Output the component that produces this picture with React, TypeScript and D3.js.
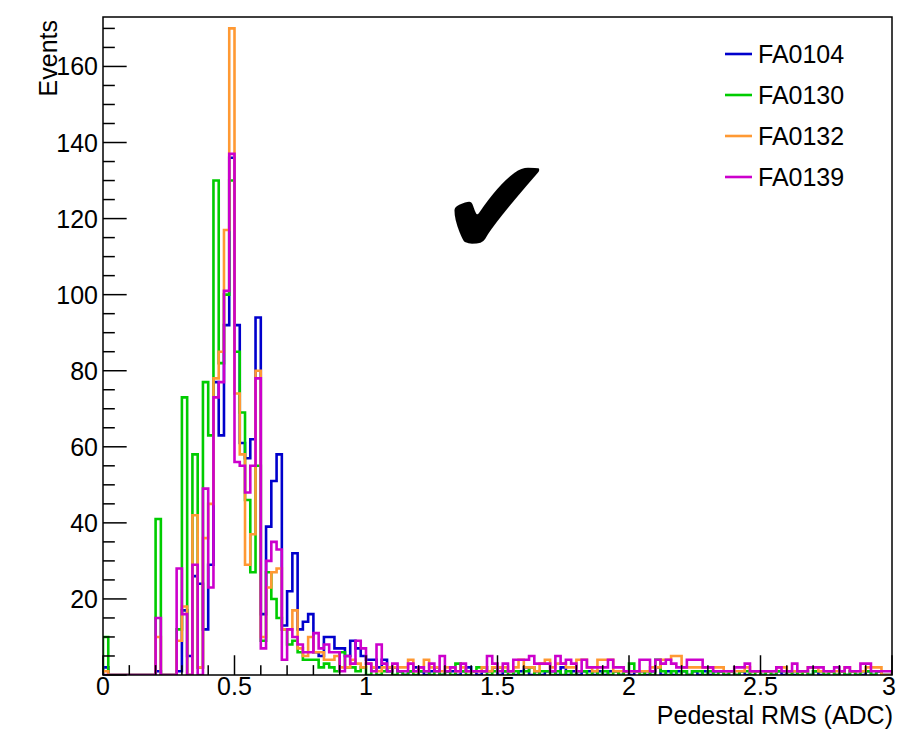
import React from "react";
import * as d3 from "d3";

// Histogram binning: 150 bins over Pedestal RMS 0..3 ADC
const X_MIN = 0;
const X_MAX = 3;
const N_BINS = 150;

const seriesNames = ["FA0104", "FA0130", "FA0132", "FA0139"];
const seriesColors = ["#0000cc", "#00cc00", "#ff9933", "#cc00cc"];

const FA0104 = [
  2, 0, 0, 0, 0, 0, 0, 0, 0, 0,
  1, 0, 0, 0, 1, 17, 5, 26, 24, 12,
  29, 77, 63, 92, 136, 92, 61, 57, 62, 94,
  16, 39, 51, 58, 13, 22, 32, 12, 14, 16,
  6, 5, 10, 10, 7, 7, 5, 9, 7, 5,
  4, 4, 2, 4, 1, 2, 1, 0, 1, 2,
  1, 0, 1, 2, 0, 1, 1, 0, 1, 2,
  1, 0, 1, 1, 2, 0, 1, 1, 0, 1,
  2, 0, 1, 0, 1, 1, 0, 2, 0, 1,
  0, 1, 1, 0, 1, 0, 1, 1, 0, 1,
  0, 1, 1, 0, 1, 2, 0, 1, 0, 1,
  1, 0, 1, 0, 1, 0, 1, 1, 0, 1,
  0, 1, 0, 1, 1, 0, 1, 0, 1, 0,
  1, 0, 1, 1, 0, 1, 0, 0, 1, 0,
  1, 0, 1, 0, 0, 1, 0, 1, 0, 0,
];

const FA0130 = [
  10, 0, 0, 0, 0, 0, 0, 0, 0, 0,
  41, 0, 0, 0, 12, 73, 0, 58, 2, 77,
  63, 130, 82, 100, 130, 85, 69, 46, 27, 55,
  9, 27, 20, 15, 12, 8, 9, 6, 4, 4,
  4, 2, 3, 2, 1, 6, 2, 2, 1, 2,
  0, 2, 0, 1, 2, 0, 1, 0, 1, 0,
  1, 1, 0, 1, 0, 1, 0, 3, 1, 0,
  1, 2, 2, 0, 1, 2, 1, 0, 1, 0,
  1, 2, 0, 1, 1, 0, 1, 0, 1, 0,
  1, 1, 0, 1, 0, 1, 0, 1, 0, 1,
  3, 1, 0, 1, 0, 4, 1, 0, 1, 0,
  1, 0, 1, 1, 0, 1, 0, 1, 0, 1,
  0, 1, 1, 0, 1, 0, 1, 0, 1, 1,
  0, 1, 0, 1, 0, 1, 1, 0, 1, 0,
  1, 0, 1, 0, 1, 1, 0, 1, 0, 0,
];

const FA0132 = [
  1, 0, 0, 0, 0, 0, 0, 0, 0, 0,
  10, 0, 0, 0, 9, 18, 0, 42, 2, 36,
  45, 78, 85, 117, 170, 74, 58, 29, 37, 80,
  10, 23, 27, 28, 12, 12, 17, 7, 5, 10,
  6, 6, 4, 4, 5, 2, 2, 4, 3, 2,
  3, 2, 1, 2, 2, 2, 2, 2, 4, 1,
  2, 4, 2, 2, 1, 2, 2, 1, 2, 1,
  1, 1, 2, 1, 2, 2, 2, 1, 2, 4,
  2, 2, 1, 3, 4, 2, 3, 3, 2, 2,
  4, 4, 2, 1, 4, 4, 4, 1, 1, 1,
  1, 1, 1, 1, 2, 2, 4, 4, 5, 5,
  2, 2, 2, 2, 2, 2, 2, 2, 1, 1,
  1, 1, 2, 1, 1, 1, 1, 1, 2, 2,
  1, 1, 1, 1, 2, 2, 1, 1, 1, 1,
  1, 2, 1, 1, 1, 2, 2, 2, 0, 0,
];

const FA0139 = [
  0, 0, 0, 0, 0, 0, 0, 0, 0, 0,
  15, 0, 0, 0, 28, 16, 0, 29, 0, 49,
  23, 73, 77, 101, 137, 56, 55, 48, 55, 78,
  7, 30, 35, 33, 4, 12, 10, 8, 6, 6,
  11, 7, 8, 6, 6, 1, 5, 3, 9, 7,
  3, 1, 8, 3, 1, 3, 1, 1, 3, 1,
  2, 1, 3, 1, 5, 1, 2, 1, 3, 1,
  1, 1, 1, 5, 3, 1, 3, 1, 4, 4,
  4, 5, 3, 3, 3, 1, 5, 3, 4, 3,
  1, 4, 2, 2, 2, 2, 4, 2, 2, 1,
  1, 1, 4, 4, 1, 4, 3, 4, 3, 2,
  2, 4, 4, 4, 2, 2, 1, 1, 1, 1,
  2, 2, 3, 1, 1, 1, 1, 1, 2, 1,
  1, 3, 1, 1, 2, 2, 2, 1, 1, 2,
  1, 2, 1, 1, 3, 3, 1, 1, 1, 1,
];

const seriesValues = [FA0104, FA0130, FA0132, FA0139];

const xTickLabels = [0, 0.5, 1, 1.5, 2, 2.5, 3];
const yTickLabels = [20, 40, 60, 80, 100, 120, 140, 160];

const FONT = "'Liberation Sans', Arial, Helvetica, sans-serif";

export default function App() {
  const W = 897;
  const H = 730;
  const left = 103;
  const right = 892;
  const top = 17;
  const bottom = 675;

  const x = d3.scaleLinear().domain([X_MIN, X_MAX]).range([left, right]);
  const y = d3.scaleLinear().domain([0, 173]).range([bottom, top]);

  const binW = (X_MAX - X_MIN) / N_BINS;

  // Step outline of a histogram, starting and ending on the baseline
  const stepPath = (vals: number[]) => {
    const p = d3.path();
    p.moveTo(x(X_MIN), y(0));
    vals.forEach((v, i) => {
      p.lineTo(x(X_MIN + i * binW), y(v));
      p.lineTo(x(X_MIN + (i + 1) * binW), y(v));
    });
    p.lineTo(x(X_MAX), y(0));
    return p.toString();
  };

  const yMajorLen = 0.03 * (right - left);
  const xMajorLen = 0.03 * (bottom - top);

  const yMinor = d3.range(0, 175, 5).filter((v) => v % 20 !== 0);
  const yMajor = d3.range(0, 175, 20);
  const xMinor = d3.range(0, 31).map((k) => k / 10).filter((v, k) => k % 5 !== 0);

  return (
    <svg width={W} height={H} style={{ display: "block", position: "absolute", left: 0, top: 0 }}>
      <rect x={0} y={0} width={W} height={H} fill="#ffffff" />
      <defs>
        <clipPath id="frameClip">
          <rect x={left} y={top} width={right - left} height={bottom - top} />
        </clipPath>
      </defs>

      {/* histograms */}
      <g clipPath="url(#frameClip)">
        {seriesValues.map((vals, k) => (
          <path
            key={seriesNames[k]}
            d={stepPath(vals)}
            fill="none"
            stroke={seriesColors[k]}
            strokeWidth={2.6}
            strokeLinejoin="miter"
          />
        ))}
      </g>

      {/* frame */}
      <rect x={left} y={top} width={right - left} height={bottom - top} fill="none" stroke="#000" strokeWidth={1.5} />

      {/* y axis ticks */}
      {yMajor.map((v) => (
        <line key={"yM" + v} x1={left} x2={left + yMajorLen} y1={y(v)} y2={y(v)} stroke="#000" strokeWidth={1.5} />
      ))}
      {yMinor.map((v) => (
        <line key={"ym" + v} x1={left} x2={left + yMajorLen / 2} y1={y(v)} y2={y(v)} stroke="#000" strokeWidth={1.5} />
      ))}
      {yTickLabels.map((v) => (
        <text key={"yl" + v} x={left - 5} y={y(v) + 9} textAnchor="end" fontFamily={FONT} fontSize={25} fill="#000">
          {v}
        </text>
      ))}

      {/* x axis ticks */}
      {xTickLabels.map((v) => (
        <line key={"xM" + v} x1={x(v)} x2={x(v)} y1={bottom} y2={bottom - xMajorLen} stroke="#000" strokeWidth={1.5} />
      ))}
      {xMinor.map((v) => (
        <line key={"xm" + v} x1={x(v)} x2={x(v)} y1={bottom} y2={bottom - xMajorLen / 2} stroke="#000" strokeWidth={1.5} />
      ))}
      {xTickLabels.map((v) => (
        <text
          key={"xl" + v}
          x={Math.min(x(v), W - 8)}
          y={bottom + 20}
          textAnchor="middle"
          fontFamily={FONT}
          fontSize={25}
          fill="#000"
        >
          {String(v)}
        </text>
      ))}

      {/* axis titles */}
      <text x={right + 1} y={724} textAnchor="end" fontFamily={FONT} fontSize={25} fill="#000">
        Pedestal RMS (ADC)
      </text>
      <text
        transform={`translate(57, 20) rotate(-90)`}
        textAnchor="end"
        fontFamily={FONT}
        fontSize={25}
        fill="#000"
      >
        Events
      </text>

      {/* legend */}
      {seriesNames.map((name, k) => {
        const ly = 54 + k * 41;
        return (
          <g key={"lg" + name}>
            <line x1={725} x2={752} y1={ly} y2={ly} stroke={seriesColors[k]} strokeWidth={2.6} />
            <text x={758} y={ly + 9} fontFamily={FONT} fontSize={25} fill="#000">
              {name}
            </text>
          </g>
        );
      })}

      {/* check mark */}
      <text x={497} y={256} textAnchor="middle" fontFamily="'DejaVu Sans', sans-serif" fontSize={140} fill="#000">
        ✔
      </text>
    </svg>
  );
}
